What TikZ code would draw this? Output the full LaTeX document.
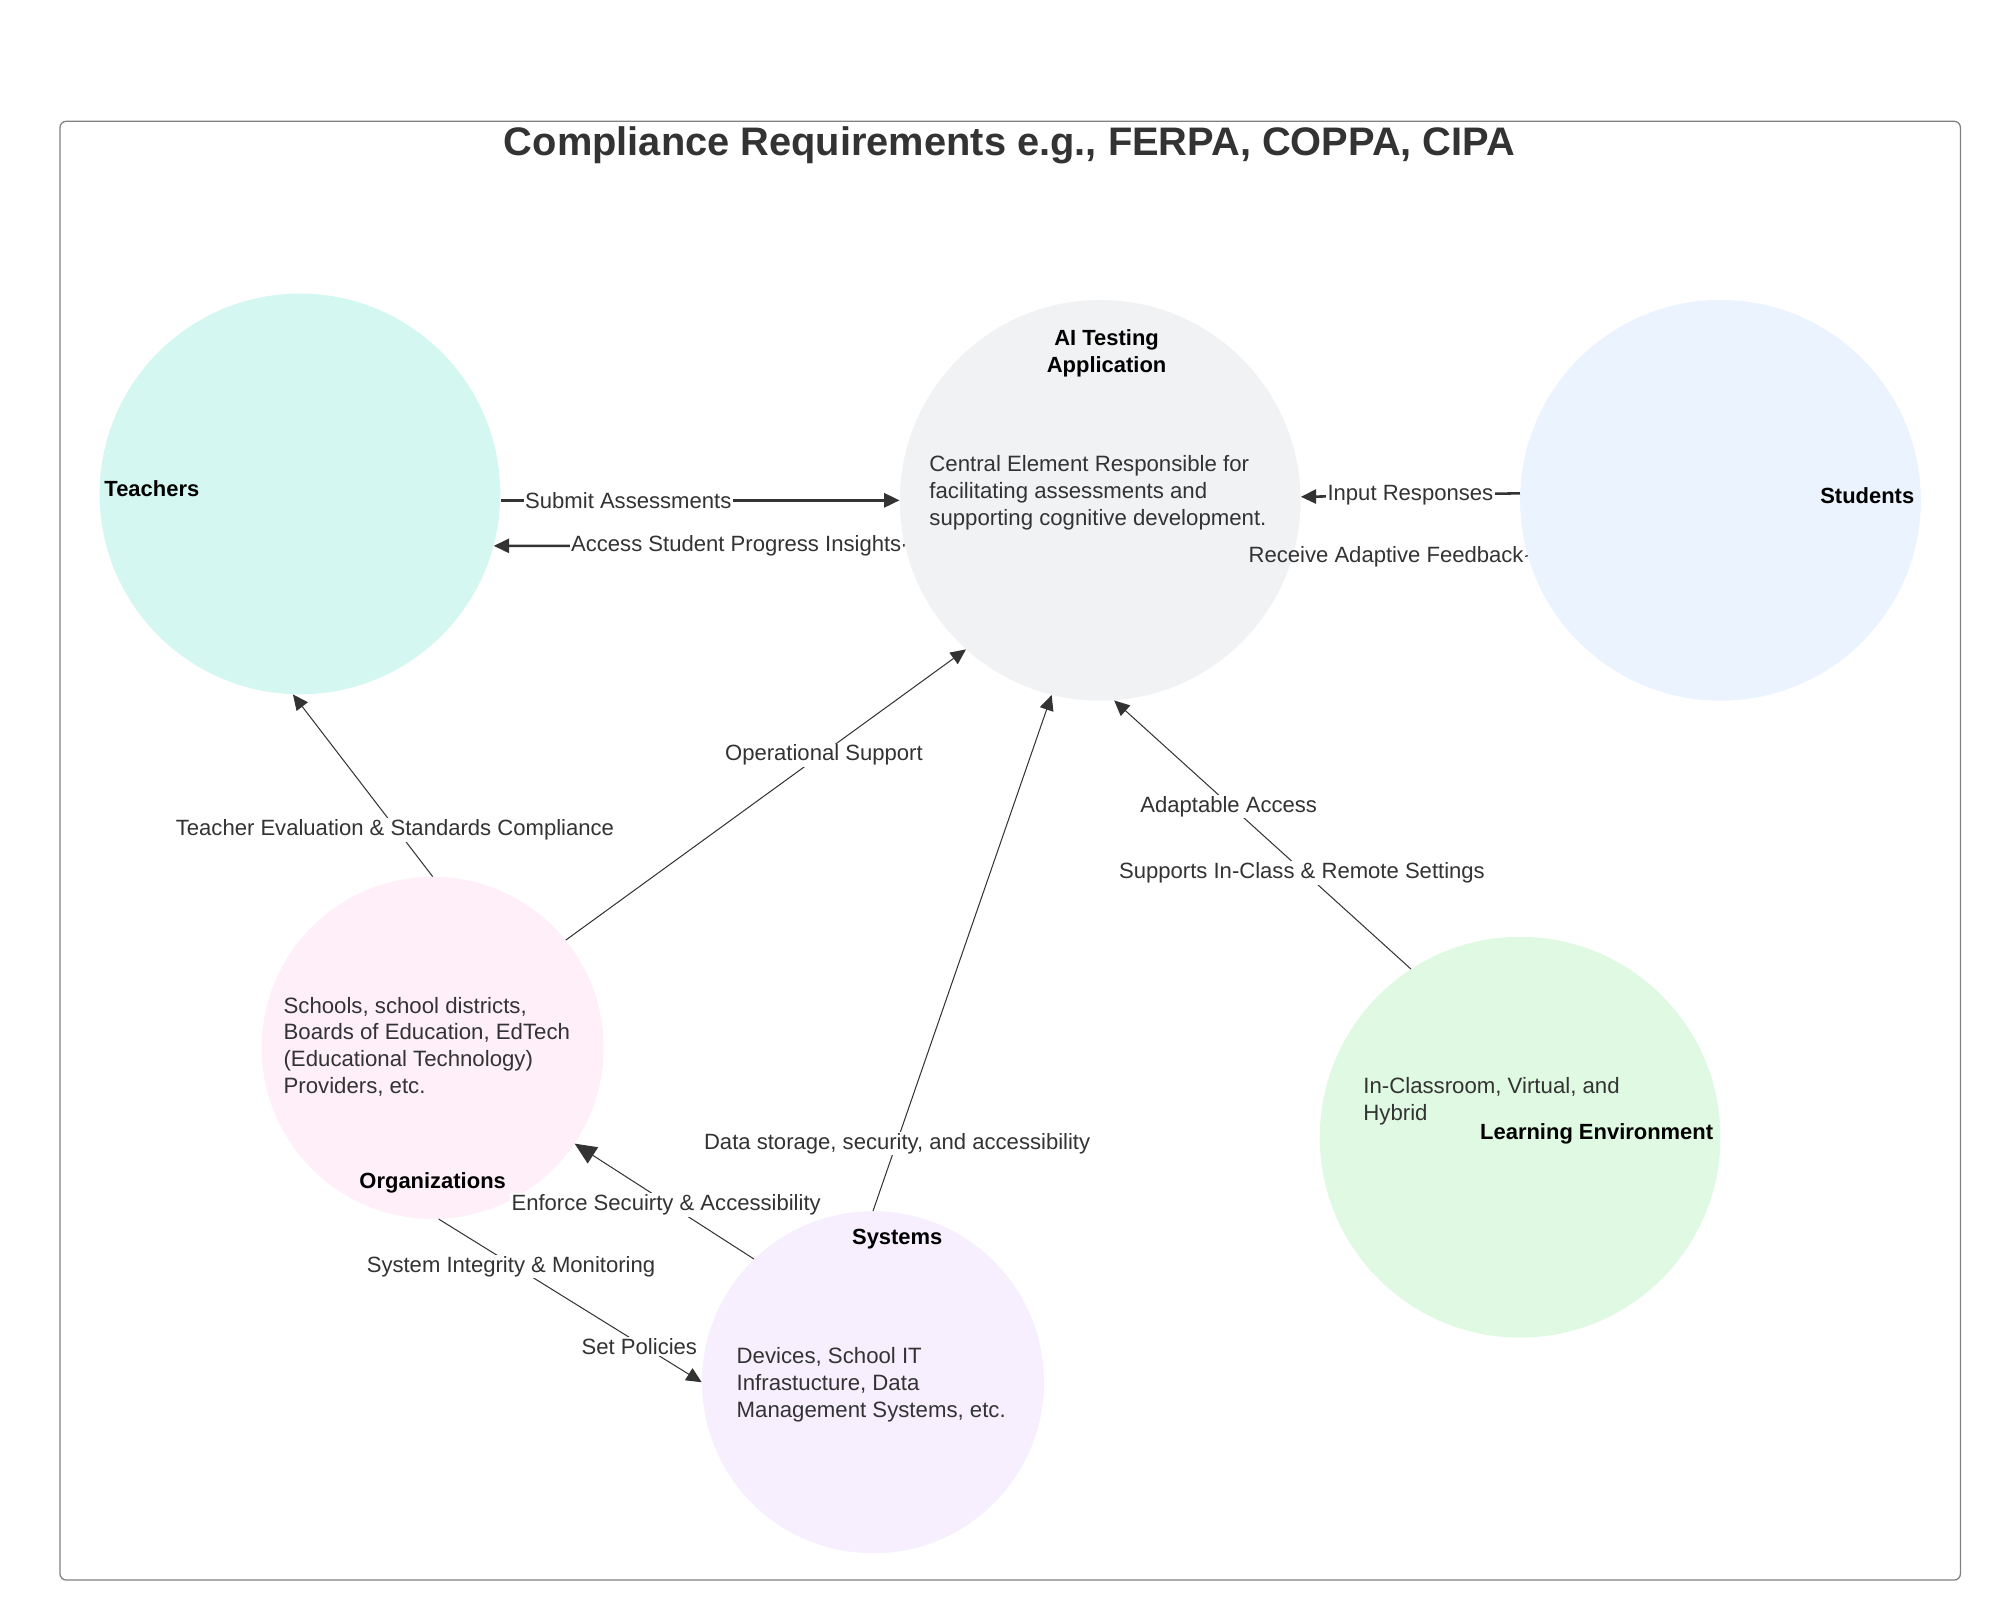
\documentclass[tikz,border=0pt]{standalone}
\usepackage{fontspec}
\setmainfont{Liberation Sans}
\usetikzlibrary{arrows.meta}

\definecolor{ink}{HTML}{333333}
\definecolor{mint}{HTML}{D5F7F1}
\definecolor{fog}{HTML}{F1F2F4}
\definecolor{sky}{HTML}{EBF3FE}
\definecolor{blush}{HTML}{FEEFF9}
\definecolor{lilac}{HTML}{F7EEFE}
\definecolor{leaf}{HTML}{E0F9E2}

\begin{document}
\begin{tikzpicture}[x=1pt, y=-1pt,
    disc/.style={circle, draw=none, inner sep=0pt},
    big/.style={disc, minimum size=314pt},
    small/.style={disc, minimum size=268pt},
    tag/.style={font=\fontsize{17.2}{21}\selectfont\bfseries, text=black, align=center},
    blurb/.style={font=\fontsize{17.4}{21}\selectfont, text=ink, align=left, anchor=west, inner sep=0pt},
    edgelbl/.style={font=\fontsize{17.3}{21}\selectfont, text=ink, fill=white, inner sep=1pt, yshift=-2pt},
    flow/.style={draw=ink, line width=0.8pt, -{Triangle[length=12pt,width=11pt]}},
    thickflow/.style={draw=ink, line width=2pt, -{Triangle[length=12pt,width=11pt]}},
    ]
    \useasboundingbox (0,0) rectangle (1567,1269);
    \draw[draw=gray, line width=1pt, rounded corners=5pt] (47,95) rectangle (1536,1238);
    \node[font=\fontsize{31.2}{36}\selectfont\bfseries, text=ink] (title) at (791,114)
      {Compliance Requirements e.g., FERPA, COPPA, CIPA};

    % circles
    \node[big, fill=mint] (teachers) at (235,387) {};
    \node[big, fill=fog] (ai) at (862,392) {};
    \node[big, fill=sky] (students) at (1348,392) {};
    \node[small, fill=blush] (org) at (339,821) {};
    \node[small, fill=lilac] (sys) at (684,1083) {};
    \node[big, fill=leaf] (env) at (1191,891) {};

    % texts in the circles
    \node[tag] (teacherstag) at (119,383) {Teachers};
    \node[tag] (aitag) at (867,277) {AI Testing\\Application};
    \node[blurb] (aitext) at (728,386) {Central Element Responsible for\\facilitating assessments and\\supporting cognitive development.};
    \node[tag] (studentstag) at (1463,388) {Students};
    \node[blurb] (orgtext) at (222,820) {Schools, school districts,\\Boards of Education, EdTech\\(Educational Technology)\\Providers, etc.};
    \node[tag] (orgtag) at (339,927) {Organizations};
    \node[tag] (systag) at (703,971) {Systems};
    \node[blurb] (systext) at (577,1085) {Devices, School IT\\Infrastucture, Data\\Management Systems, etc.};
    \node[blurb] (envtext) at (1068,863) {In-Classroom, Virtual, and\\Hybrid};
    \node[tag] (envtag) at (1251,888) {Learning Environment};

    % connectors
    \draw[thickflow] (teachers.east |- ai.west) -- node[edgelbl, pos=0.32, yshift=2pt] {Submit Assessments} (ai.west);
    \draw[thickflow] (ai.193) -- node[edgelbl, pos=0.41, yshift=2pt] {Access Student Progress Insights} (teachers.-15);
    \draw[thickflow] (students.178.5) -- node[edgelbl, pos=0.5, yshift=2pt] {Input Responses} (ai.1.5);
    \node[font=\fontsize{17.3}{21}\selectfont, text=ink, inner sep=1pt] (feedback) at (1086,436) {Receive Adaptive Feedback};
    \draw[draw=ink, line width=1pt] (students.196) -- (feedback.east);
    \draw[flow] (org.north) -- node[edgelbl, pos=0.27] {Teacher Evaluation \& Standards Compliance} (teachers.-92);
    \draw[flow] (org.39) -- node[edgelbl, pos=0.645] {Operational Support} (ai.228);
    \draw[flow] (sys.north) -- node[edgelbl, pos=0.135] {Data storage, security, and accessibility} (ai.256);
    \draw[flow] (env.123) -- node[edgelbl, pos=0.367] {Supports In-Class \& Remote Settings}
      node[edgelbl, pos=0.614] {Adaptable Access} (ai.274);
    \draw[flow, -{Triangle[length=17pt,width=15pt]}] (sys.134) -- node[edgelbl, pos=0.49] {Enforce Secuirty \& Accessibility} (org.-34);
    \draw[flow] (org.-88) -- node[edgelbl, pos=0.275] {System Integrity \& Monitoring}
      node[edgelbl, pos=0.763] {Set Policies} (sys.west);
  \end{tikzpicture}
\end{document}
